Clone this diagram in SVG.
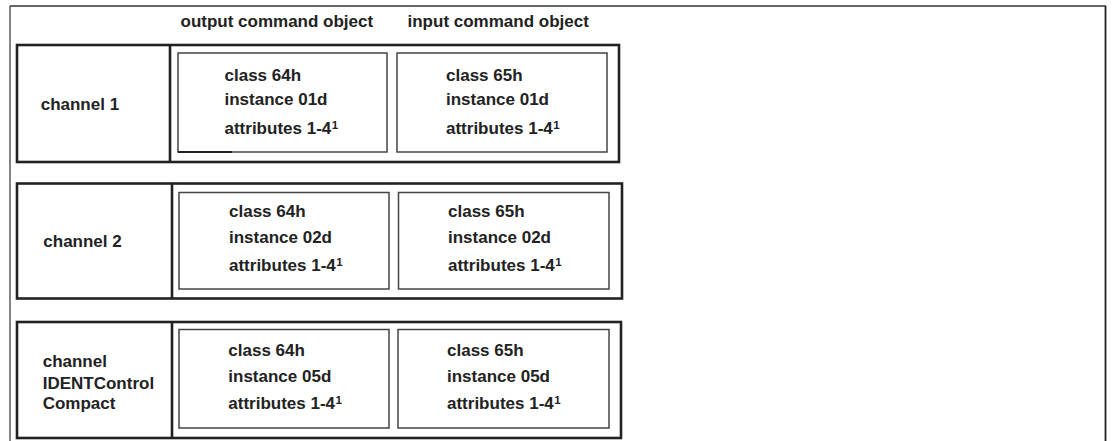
<svg xmlns="http://www.w3.org/2000/svg" width="1112" height="441" viewBox="0 0 1112 441">
<style>
text{font-family:"Liberation Sans",Arial,sans-serif;font-weight:bold;font-size:17px;fill:#222}
.sup{font-size:11.5px}
.row{fill:none;stroke:#222;stroke-width:2.6}
.cell{fill:none;stroke:#444;stroke-width:1.5}
</style>
<rect width="1112" height="441" fill="#fff"/>
<g id="frame">
<line x1="10" y1="6" x2="1106" y2="6" stroke="#666" stroke-width="2"/>
<line x1="10" y1="6" x2="10" y2="441" stroke="#333" stroke-width="1.2"/>
<line x1="1105.5" y1="6" x2="1105.5" y2="441" stroke="#222" stroke-width="1.8"/>
</g>
<g id="headers">
<text x="180.5" y="26.7">output command object</text>
<text x="407.5" y="26.7">input command object</text>
</g>
<g id="row1">
<rect class="row" x="17" y="45" width="602" height="117"/>
<line class="row" x1="170" y1="45" x2="170" y2="162"/>
<text x="40.7" y="110">channel 1</text>
<g id="row1-out">
<rect class="cell" x="178" y="53" width="209" height="99"/>
<line x1="178" y1="152" x2="232" y2="152" stroke="#222" stroke-width="2"/>
<text x="224.5" y="81">class 64h</text>
<text x="224.5" y="105">instance 01d</text>
<text x="224.5" y="133.5">attributes 1-4<tspan class="sup" dx="0.5" dy="-5">1</tspan></text>
</g>
<g id="row1-in">
<rect class="cell" x="397" y="53" width="210" height="99"/>
<text x="446" y="81">class 65h</text>
<text x="446" y="105">instance 01d</text>
<text x="446" y="133.5">attributes 1-4<tspan class="sup" dx="0.5" dy="-5">1</tspan></text>
</g>
</g>
<g id="row2">
<rect class="row" x="17" y="183.5" width="605" height="115"/>
<line class="row" x1="172" y1="183.5" x2="172" y2="298.5"/>
<text x="43.3" y="247.3">channel 2</text>
<g id="row2-out">
<rect class="cell" x="179" y="192.5" width="210" height="96.5"/>
<text x="229" y="216.7">class 64h</text>
<text x="229" y="243.3">instance 02d</text>
<text x="229" y="270.7">attributes 1-4<tspan class="sup" dx="0.5" dy="-5">1</tspan></text>
</g>
<g id="row2-in">
<rect class="cell" x="398.5" y="192.5" width="210.5" height="96.5"/>
<text x="448" y="216.7">class 65h</text>
<text x="448" y="243.3">instance 02d</text>
<text x="448" y="270.7">attributes 1-4<tspan class="sup" dx="0.5" dy="-5">1</tspan></text>
</g>
</g>
<g id="row3">
<rect class="row" x="17" y="322" width="604" height="116"/>
<line class="row" x1="172" y1="322" x2="172" y2="438"/>
<text x="42.7" y="366.5">channel</text>
<text x="42.7" y="388.5">IDENTControl</text>
<text x="42.7" y="409">Compact</text>
<g id="row3-out">
<rect class="cell" x="179" y="329.5" width="210" height="98.5"/>
<text x="228.3" y="355.5">class 64h</text>
<text x="228.3" y="381.5">instance 05d</text>
<text x="228.3" y="408.5">attributes 1-4<tspan class="sup" dx="0.5" dy="-5">1</tspan></text>
</g>
<g id="row3-in">
<rect class="cell" x="398" y="329.5" width="211" height="98.5"/>
<text x="447" y="355.5">class 65h</text>
<text x="447" y="381.5">instance 05d</text>
<text x="447" y="408.5">attributes 1-4<tspan class="sup" dx="0.5" dy="-5">1</tspan></text>
</g>
</g>
<g id="connectors"/>
</svg>
